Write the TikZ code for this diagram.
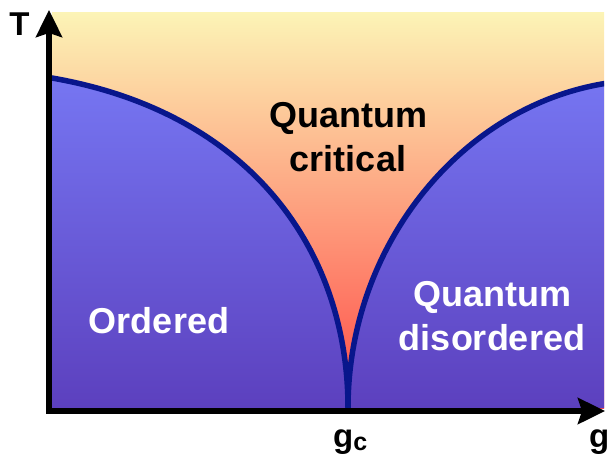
\documentclass[tikz,border=0pt]{standalone}
\usepackage{fontspec}
\setmainfont{Liberation Sans}
\usetikzlibrary{arrows.meta,positioning}
\definecolor{critTop}{RGB}{252,244,182}
\definecolor{critMid}{RGB}{251,184,142}
\definecolor{critBot}{RGB}{255,74,70}
\definecolor{phaseTop}{RGB}{118,118,242}
\definecolor{phaseBot}{RGB}{92,64,190}
\definecolor{lineBlue}{RGB}{8,22,140}
\tikzset{
  axis/.style={line width=6pt, line cap=rect,
               -{Stealth[length=27pt,width=26pt,inset=4pt]}},
  boundary/.style={line width=5.5pt, lineBlue},
  phase/.style={font=\fontsize{36}{44}\selectfont\bfseries, align=center, inner sep=0pt},
  axlabel/.style={font=\fontsize{33}{36}\selectfont\bfseries, inner sep=0pt},
}
\begin{document}
\begin{tikzpicture}[x=1pt,y=-1pt]
  \useasboundingbox (0,0) rectangle (608,455);
  \coordinate (O) at (49,411);
  \coordinate (Tend) at (49,10);
  \coordinate (gend) at (605,411);
  \coordinate (qcp) at (348,408);

  % background and the two phases
  \begin{scope}
    \clip (52,12) rectangle (604,408);
    \shade[top color=critTop, middle color=critMid, bottom color=critBot]
      (52,12) rectangle (604,408);
    \shade[top color=phaseTop, bottom color=phaseBot]
      (52,77) .. controls (250,110) and (348,250) .. (qcp) -- (52,408) -- cycle
      (qcp) .. controls (348,245) and (462,105) .. (606,83) -- (606,408) -- cycle;
    \draw[boundary] (46,77) .. controls (250,110) and (348,250) .. (qcp);
    \draw[boundary] (qcp) .. controls (348,245) and (462,105) .. (608,83);
  \end{scope}

  \draw[axis] (O) -- (Tend);
  \draw[axis] (O) -- (gend);

  \node[phase, anchor=north] (crit) at (348,102) {Quantum\\critical};
  \node[phase, anchor=north, white] (disord) at (492,281) {Quantum\\disordered};
  \node[phase, anchor=base, white] (order) at (159,333) {Ordered};

  \node[axlabel, anchor=base] (Tlab) at (19.5,35) {T};
  \node[axlabel, anchor=base west] (glab) at (589,447) {g};
  \node[axlabel, anchor=base west] (gclab) at (333,447)
    {g\raisebox{-3pt}{\fontsize{25}{25}\selectfont c}};
\end{tikzpicture}
\end{document}
